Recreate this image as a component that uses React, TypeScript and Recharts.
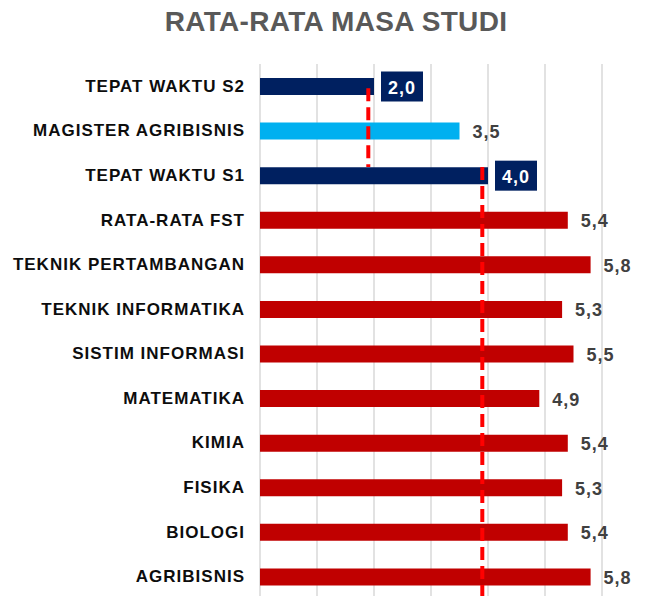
import { BarChart, Bar, XAxis, YAxis, CartesianGrid, ReferenceLine, LabelList, Cell } from 'recharts';

const categories = [
  'TEPAT WAKTU S2',
  'MAGISTER AGRIBISNIS',
  'TEPAT WAKTU S1',
  'RATA-RATA FST',
  'TEKNIK PERTAMBANGAN',
  'TEKNIK INFORMATIKA',
  'SISTIM INFORMASI',
  'MATEMATIKA',
  'KIMIA',
  'FISIKA',
  'BIOLOGI',
  'AGRIBISNIS',
];

const years = [2.0, 3.5, 4.0, 5.4, 5.8, 5.3, 5.5, 4.9, 5.4, 5.3, 5.4, 5.8];

// which group each row belongs to
const kinds = ['target', 'magister', 'target', 'prodi', 'prodi', 'prodi', 'prodi', 'prodi', 'prodi', 'prodi', 'prodi', 'prodi'];

const xTicks = [0, 1, 2, 3, 4, 5, 6];

// dashed marker lines: value, first row, last row
const markers = [
  { value: 1.9, from: 'TEPAT WAKTU S2', to: 'TEPAT WAKTU S1' },
  { value: 3.9, from: 'TEPAT WAKTU S1', to: 'AGRIBISNIS' },
];

const colors: Record<string, string> = {
  target: '#002060',
  magister: '#00B0F0',
  prodi: '#C00000',
};

const data = categories.map((name, i) => ({ name, years: years[i], kind: kinds[i] }));

const BAR = 17;
const FONT = '"Liberation Sans", Arial, sans-serif';

const fmt = (v: number) => v.toFixed(1).replace('.', ',');

function CategoryTick({ x = 0, y = 0, payload }: any) {
  return (
    <text
      x={x}
      y={y}
      textAnchor="end"
      dominantBaseline="central"
      fontFamily={FONT}
      fontSize={17}
      fontWeight={700}
      fill="#0d0d0d"
      style={{ letterSpacing: 1 }}
    >
      {payload.value}
    </text>
  );
}

function ValueLabel({ x = 0, y = 0, width = 0, height = 0, value, index }: any) {
  const cy = y + height / 2;
  const end = x + width;
  if (kinds[index] === 'target') {
    return (
      <g>
        <rect x={end + 7} y={cy - 15} width={42} height={30} fill="#002060" />
        <text
          x={end + 28}
          y={cy + 1}
          textAnchor="middle"
          dominantBaseline="central"
          fontFamily={FONT}
          fontSize={18}
          fontWeight={700}
          fill="#fff"
          style={{ letterSpacing: 1 }}
        >
          {fmt(value)}
        </text>
      </g>
    );
  }
  return (
    <text
      x={end + 13}
      y={cy + 1}
      dominantBaseline="central"
      fontFamily={FONT}
      fontSize={18}
      fontWeight={700}
      fill="#404040"
      style={{ letterSpacing: 1 }}
    >
      {fmt(value)}
    </text>
  );
}

function makeDash(startShift: number, endShift: number) {
  return (p: any) => (
    <line
      x1={p.x1}
      x2={p.x2}
      y1={p.y1 + startShift}
      y2={p.y2 + endShift}
      stroke="#FF0000"
      strokeWidth={4}
      strokeDasharray="13 6"
    />
  );
}

export default function App() {
  return (
    <div
      style={{
        position: 'absolute',
        left: 0,
        top: 0,
        width: 652,
        height: 596,
        overflow: 'hidden',
        background: '#fff',
        fontFamily: FONT,
      }}
    >
      <div
        style={{
          position: 'absolute',
          top: 8,
          left: 10,
          width: 652,
          textAlign: 'center',
          fontSize: 28,
          lineHeight: '28px',
          fontWeight: 700,
          color: '#595959',
          letterSpacing: 0.3,
        }}
      >
        RATA-RATA MASA STUDI
      </div>
      <BarChart
        width={652}
        height={604}
        data={data}
        layout="vertical"
        margin={{ top: 64, right: 50, bottom: 5, left: 0 }}
      >
        <CartesianGrid horizontal={false} stroke="#d9d9d9" strokeWidth={1.5} />
        <XAxis type="number" domain={[0, 6]} ticks={xTicks} hide />
        <YAxis
          type="category"
          dataKey="name"
          width={260}
          axisLine={false}
          tickLine={false}
          tickSize={0}
          tickMargin={15}
          interval={0}
          tick={<CategoryTick />}
        />
        <Bar dataKey="years" barSize={BAR} isAnimationActive={false}>
          {data.map((d) => (
            <Cell key={d.name} fill={colors[d.kind]} />
          ))}
          <LabelList dataKey="years" content={<ValueLabel />} />
        </Bar>
        <ReferenceLine
          segment={[{ x: markers[0].value, y: markers[0].from }, { x: markers[0].value, y: markers[0].to }]}
          ifOverflow="visible"
          shape={makeDash(2, -BAR / 2)}
        />
        <ReferenceLine
          segment={[{ x: markers[1].value, y: markers[1].from }, { x: markers[1].value, y: markers[1].to }]}
          ifOverflow="visible"
          shape={makeDash(-BAR / 2, 24)}
        />
      </BarChart>
    </div>
  );
}
